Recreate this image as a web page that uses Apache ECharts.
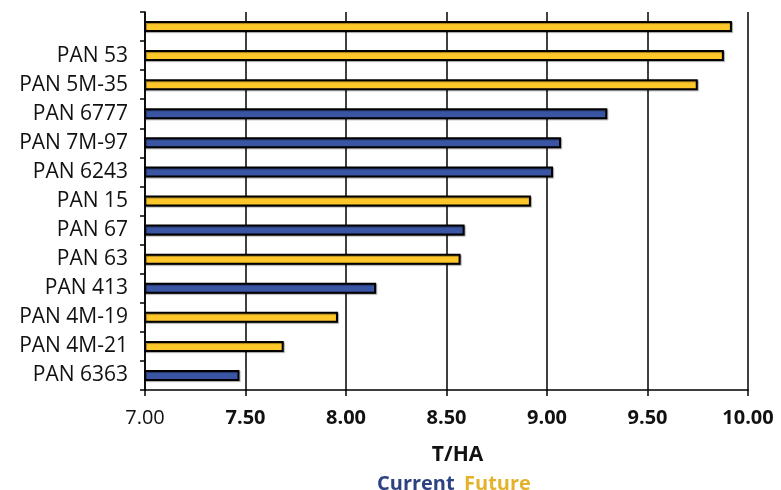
<!DOCTYPE html>
<html>
<head>
<meta charset="utf-8">
<script src="https://cdn.jsdelivr.net/npm/echarts@6/dist/echarts.min.js"></script>
<style>html,body{margin:0;padding:0;background:#fff}#c{width:781px;height:490px}</style>
</head>
<body>
<div id="c"></div>
<script>
var categories = ['', 'PAN 53', 'PAN 5M-35', 'PAN 6777', 'PAN 7M-97', 'PAN 6243', 'PAN 15', 'PAN 67', 'PAN 63', 'PAN 413', 'PAN 4M-19', 'PAN 4M-21', 'PAN 6363'];
var values = [9.92, 9.88, 9.75, 9.30, 9.07, 9.03, 8.92, 8.59, 8.57, 8.15, 7.96, 7.69, 7.47];
var groups = ['Future', 'Future', 'Future', 'Current', 'Current', 'Current', 'Future', 'Current', 'Future', 'Current', 'Future', 'Future', 'Current'];
var xTicks = [7.0, 7.5, 8.0, 8.5, 9.0, 9.5, 10.0];

var colors = { Current: '#3A55A4', Future: '#FFC82A' };
var legendColors = { Current: '#2C4283', Future: '#E4B22C' };
var FONT = '"Open Sans", "Noto Sans", sans-serif';

var data = values.map(function (v, i) {
  return { value: v, itemStyle: { color: colors[groups[i]] } };
});

var chart = echarts.init(document.getElementById('c'));
chart.setOption({
  animation: false,
  backgroundColor: '#fff',
  textStyle: { fontFamily: FONT },
  grid: { left: 145, right: 33, top: 12, bottom: 100, containLabel: false },
  title: {
    text: '{c|Current}  {f|Future}',
    left: 372,
    top: 469,
    textStyle: {
      rich: {
        c: { color: legendColors.Current, fontSize: 20, fontWeight: 'bold', fontFamily: FONT },
        f: { color: legendColors.Future, fontSize: 20, fontWeight: 'bold', fontFamily: FONT }
      }
    }
  },
  xAxis: {
    type: 'value',
    min: xTicks[0],
    max: xTicks[xTicks.length - 1],
    interval: 0.5,
    name: 'T/HA',
    nameLocation: 'middle',
    nameGap: 55,
    nameTextStyle: { color: '#111', fontSize: 21, fontWeight: 'bold', fontFamily: FONT, padding: [0, 0, 0, 22] },
    axisLine: { show: true, lineStyle: { color: '#000', width: 1.5 } },
    axisTick: { show: true, length: 6, lineStyle: { color: '#000', width: 1.5 } },
    axisLabel: {
      color: '#111', fontSize: 20, fontWeight: 'bold', fontFamily: FONT, margin: 18,
      formatter: function (v) { return v === xTicks[0] ? '{r|' + v.toFixed(2) + '}' : v.toFixed(2); },
      rich: { r: { fontSize: 20, fontWeight: 'normal', color: '#111', fontFamily: FONT } }
    },
    splitLine: { show: true, lineStyle: { color: '#000', width: 1.5 } }
  },
  yAxis: {
    type: 'category',
    data: categories,
    inverse: true,
    axisLine: { show: true, lineStyle: { color: '#000', width: 1.5 } },
    axisTick: { show: true, length: 5, lineStyle: { color: '#000', width: 1.5 } },
    axisLabel: { color: '#111', fontSize: 21, fontFamily: FONT, margin: 17 },
    splitLine: { show: false }
  },
  series: [{
    type: 'bar',
    data: data,
    barWidth: 11,
    itemStyle: {
      borderColor: '#000',
      borderWidth: 2,
      shadowColor: 'rgba(0,0,0,0.35)',
      shadowOffsetX: 1,
      shadowOffsetY: 1,
      shadowBlur: 1
    }
  }]
});
</script>
</body>
</html>
